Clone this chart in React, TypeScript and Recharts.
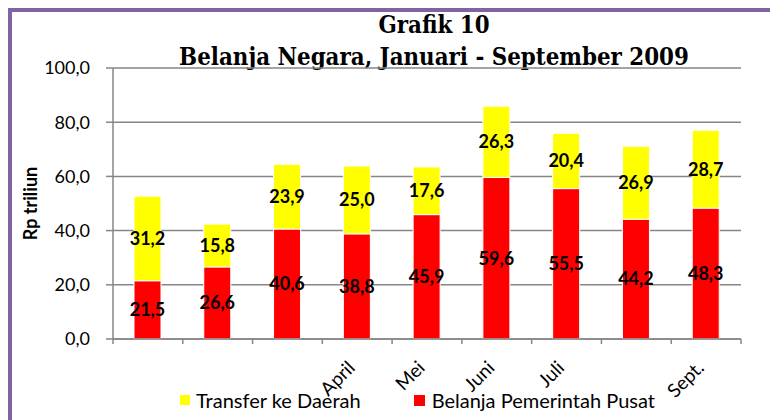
import React from "react";
import { BarChart, Bar, XAxis, YAxis, CartesianGrid, LabelList, Label } from "recharts";

const months = ["Jan", "Feb", "Mar", "Apr", "Mei", "Jun", "Jul", "Agt", "Sep"];
const tickLabels = ["", "", "", "April", "Mei", "Juni", "Juli", "", "Sept."];
const belanjaPusat = [21.5, 26.6, 40.6, 38.8, 45.9, 59.6, 55.5, 44.2, 48.3];
const transferDaerah = [31.2, 15.8, 23.9, 25.0, 17.6, 26.3, 20.4, 26.9, 28.7];
const yTicks = [0, 20, 40, 60, 80, 100];

const data = months.map((m, i) => ({
  month: m,
  pusat: belanjaPusat[i],
  daerah: transferDaerah[i],
}));

const FONT = "Lato, 'Open Sans', sans-serif";
const GREY = "#868686";

const fmt = (v: unknown) => Number(v).toFixed(1).replace(".", ",");

// category tick: boundary tick marks + rotated month label
function MonthTick(props: any) {
  const { x, y, index, payload } = props;
  const half = payload?.offset ?? 0;
  const text = tickLabels[index];
  const ax = x - 1;
  const ay = y + 30;
  return (
    <g>
      <line x1={x - half} x2={x - half} y1={y} y2={y + 5} stroke={GREY} strokeWidth={1.5} />
      {index === months.length - 1 && (
        <line x1={x + half} x2={x + half} y1={y} y2={y + 5} stroke={GREY} strokeWidth={1.5} />
      )}
      {text && (
        <text x={ax} y={ay} textAnchor="end" transform={`rotate(-45, ${ax}, ${ay})`}
          fontSize={19} fontFamily={FONT} fill="#000">
          {text}
        </text>
      )}
    </g>
  );
}

export default function App() {
  return (
    <div style={{ position: "fixed", left: 0, top: 0, width: 770, height: 420, overflow: "hidden", background: "#fff" }}>
      <div style={{
        position: "absolute", left: 8, top: 8, width: 800, height: 500,
        borderTop: "4px solid #8064A2", borderLeft: "4px solid #8064A2",
      }} />
      <div style={{
        position: "absolute", left: 134, top: 9, width: 600, textAlign: "center",
        fontFamily: "'DejaVu Serif', serif", fontWeight: "bold", fontStretch: "condensed",
        fontSize: 23.8, lineHeight: "32px", color: "#000",
      }}>
        <div>Grafik 10</div>
        <div>Belanja Negara, Januari - September 2009</div>
      </div>

      <div style={{ position: "absolute", left: 0, top: 0 }}>
        <BarChart width={770} height={420} data={data}
          margin={{ top: 68, right: 29, left: 20, bottom: 51 }}>
          <CartesianGrid vertical={false} stroke={GREY} strokeWidth={1.5} />
          <XAxis
            dataKey="month" height={30} stroke={GREY} strokeWidth={1.5}
            tickLine={false} tickSize={0} tickMargin={0}
            interval={0} tick={<MonthTick />}
          />
          <YAxis
            width={93} domain={[0, 100]} ticks={yTicks} interval={0}
            tickSize={7} tickMargin={16} stroke={GREY} strokeWidth={1.5}
            tickFormatter={fmt}
            tick={{ fontSize: 18, fontFamily: FONT, fill: "#000" }}
          >
            <Label
              content={(p: any) => {
                const vb = p.viewBox;
                const cx = vb.x + 10;
                const cy = vb.y + vb.height / 2;
                return (
                  <text x={cx} y={cy} textAnchor="middle" dominantBaseline="central"
                    transform={`rotate(-90, ${cx}, ${cy})`}
                    fontSize={18} fontWeight="bold" fontFamily={FONT} fill="#000">
                    Rp triliun
                  </text>
                );
              }}
            />
          </YAxis>
          <Bar dataKey="pusat" stackId="a" fill="#FF0000" stroke="#fff" strokeWidth={1}
            barSize={27} isAnimationActive={false}>
            <LabelList dataKey="pusat" position="center" formatter={fmt}
              style={{ fontSize: 18, fontWeight: "bold", fontFamily: FONT, fill: "#000" }} />
          </Bar>
          <Bar dataKey="daerah" stackId="a" fill="#FFFF00" stroke="#fff" strokeWidth={1}
            barSize={27} isAnimationActive={false}>
            <LabelList dataKey="daerah" position="center" formatter={fmt}
              style={{ fontSize: 18, fontWeight: "bold", fontFamily: FONT, fill: "#000" }} />
          </Bar>
        </BarChart>
      </div>

      <div style={{
        position: "absolute", left: 180, top: 388, display: "flex", alignItems: "center",
        fontFamily: FONT, fontSize: 20, color: "#000", whiteSpace: "nowrap",
      }}>
        <span style={{ width: 10, height: 10, background: "#FFFF00", marginRight: 6 }} />
        <span style={{ marginRight: 53 }}>Transfer ke Daerah</span>
        <span style={{ width: 11, height: 11, background: "#FF0000", marginRight: 7 }} />
        <span>Belanja Pemerintah Pusat</span>
      </div>
    </div>
  );
}
